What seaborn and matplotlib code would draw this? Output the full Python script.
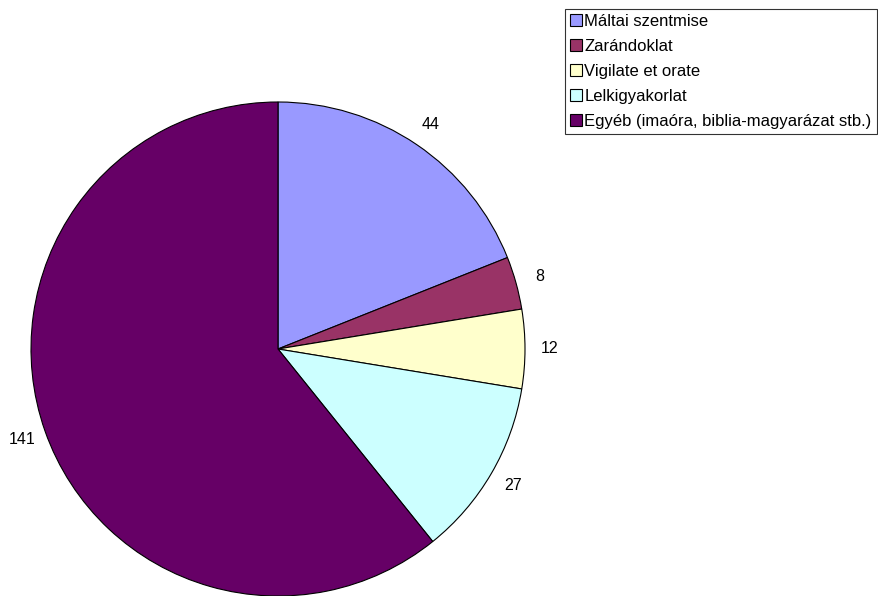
import matplotlib
matplotlib.use('Agg')
import matplotlib.pyplot as plt
import seaborn as sns
from matplotlib.patches import Patch

labels = ['Máltai szentmise', 'Zarándoklat', 'Vigilate et orate', 'Lelkigyakorlat',
          'Egyéb (imaóra, biblia-magyarázat stb.)']
values = [44, 8, 12, 27, 141]
colors = ['#9999FF', '#993366', '#FFFFCC', '#CCFFFF', '#660066']

sns.set_theme(style='white')
plt.rcParams['font.family'] = ['Liberation Sans', 'DejaVu Sans']

W, H = 879, 596
fig = plt.figure(figsize=(W / 100, H / 100), dpi=100)
cx, cy, r = 278, 349, 247
ax = fig.add_axes([(cx - r) / W, (H - cy - r) / H, 2 * r / W, 2 * r / H])

wedges, texts = ax.pie(values, colors=colors, startangle=90, counterclock=False,
                       labels=[str(v) for v in values], labeldistance=1.1,
                       wedgeprops={'edgecolor': 'black', 'linewidth': 0.8},
                       textprops={'fontsize': 11.5, 'color': 'black'})
for t in texts:
    t.set_ha('center')
ax.set_xlim(-1, 1)
ax.set_ylim(-1, 1)
ax.set_aspect('equal')
ax.axis('off')

handles = [Patch(facecolor=c, edgecolor='black', linewidth=0.8) for c in colors]
leg = fig.legend(handles, labels, loc='upper left', bbox_to_anchor=(565 / W, 1 - 9 / H),
                 fontsize=12, labelcolor='black', frameon=True, fancybox=False,
                 borderaxespad=0, handlelength=0.72, handleheight=0.72, handletextpad=0.15,
                 labelspacing=0.6, borderpad=0.3)
leg.get_frame().set_edgecolor('black')
leg.get_frame().set_linewidth(0.8)

fig.savefig('out.png', dpi=100)
